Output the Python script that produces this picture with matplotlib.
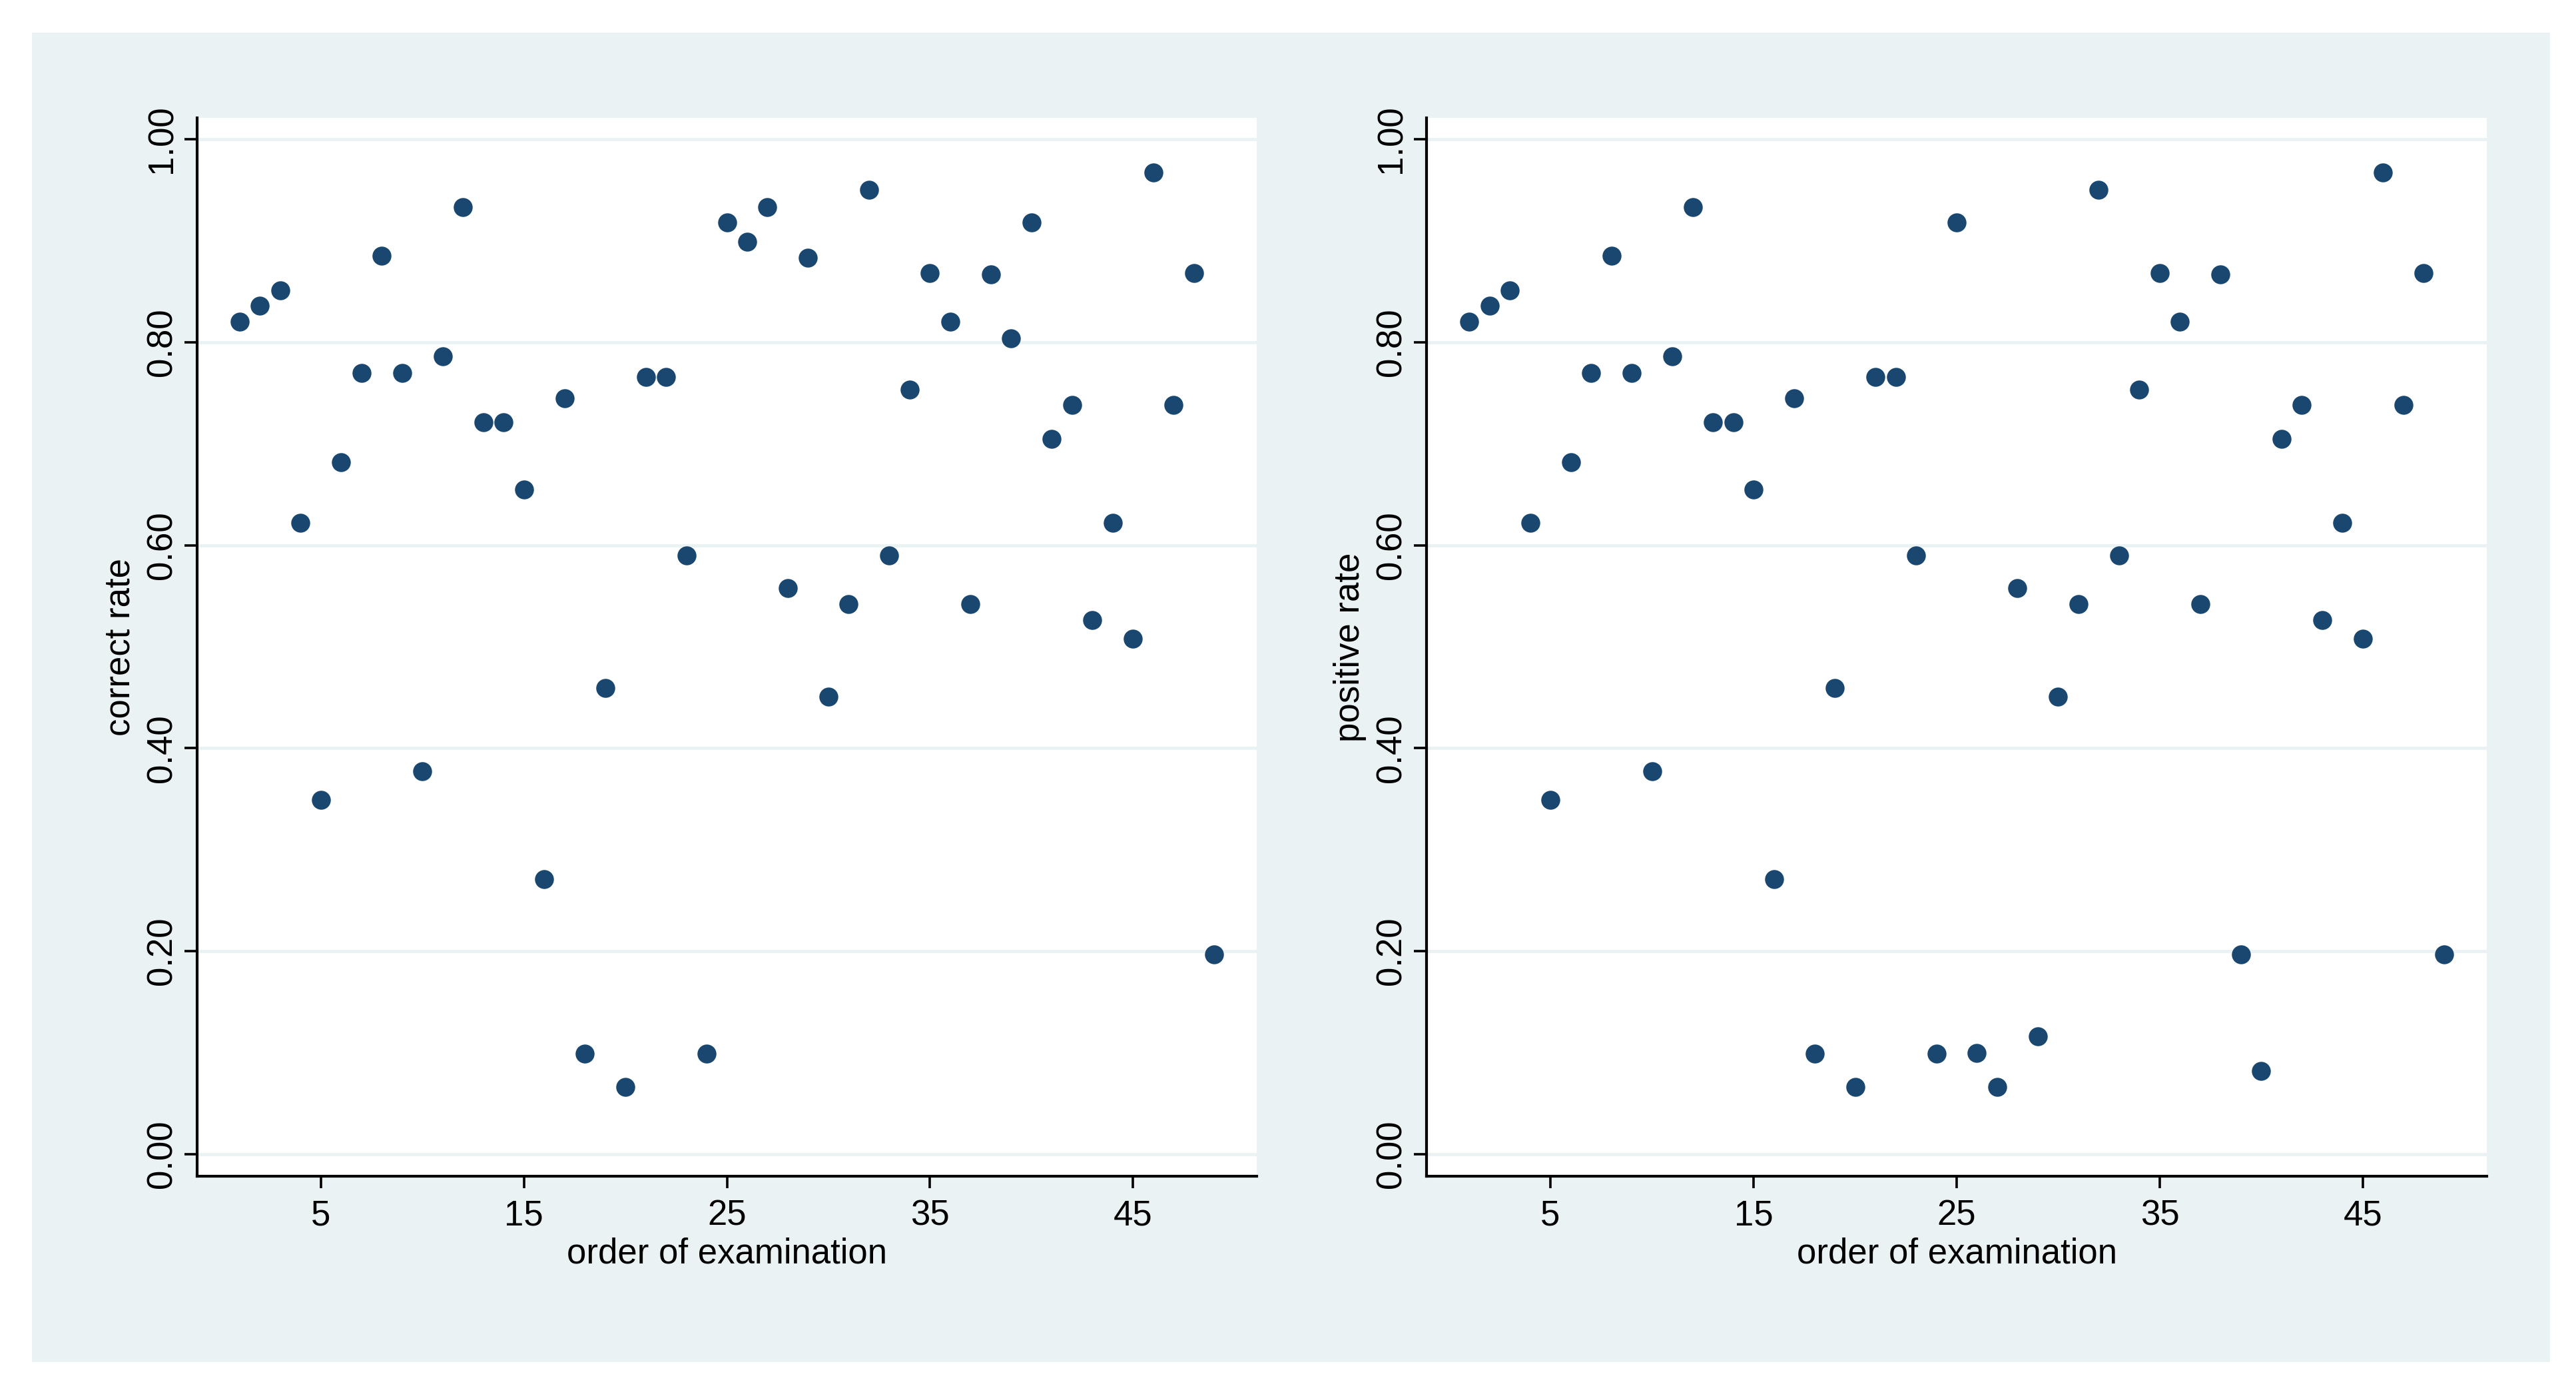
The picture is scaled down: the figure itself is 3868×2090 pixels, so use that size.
import matplotlib
matplotlib.use('Agg')
import matplotlib.pyplot as plt
from matplotlib.patches import Rectangle

# ---------------- data ----------------
order = list(range(1, 50))
correct_rate = [0.820, 0.836, 0.851, 0.622, 0.349, 0.682, 0.770, 0.885, 0.770, 0.377,
                0.786, 0.933, 0.721, 0.721, 0.655, 0.271, 0.745, 0.099, 0.459, 0.066,
                0.766, 0.766, 0.590, 0.099, 0.918, 0.899, 0.933, 0.558, 0.883, 0.451,
                0.542, 0.950, 0.590, 0.753, 0.868, 0.820, 0.542, 0.867, 0.804, 0.918,
                0.705, 0.738, 0.526, 0.622, 0.508, 0.967, 0.738, 0.868, 0.197]
positive_rate = [0.820, 0.836, 0.851, 0.622, 0.349, 0.682, 0.770, 0.885, 0.770, 0.377,
                 0.786, 0.933, 0.721, 0.721, 0.655, 0.271, 0.745, 0.099, 0.459, 0.066,
                 0.766, 0.766, 0.590, 0.099, 0.918, 0.100, 0.066, 0.558, 0.116, 0.451,
                 0.542, 0.950, 0.590, 0.753, 0.868, 0.820, 0.542, 0.867, 0.197, 0.082,
                 0.705, 0.738, 0.526, 0.622, 0.508, 0.967, 0.738, 0.868, 0.197]
x_ticks = [5, 15, 25, 35, 45]
y_ticks = [0.0, 0.2, 0.4, 0.6, 0.8, 1.0]
y_tick_labels = ['0.00', '0.20', '0.40', '0.60', '0.80', '1.00']
x_title = 'order of examination'
y_titles = ['correct rate', 'positive rate']

# ---------------- style ----------------
plt.rcParams['font.family'] = ['Liberation Sans', 'DejaVu Sans']
W, H = 3868, 2090
DPI = 100
BG = '#EAF2F3'
MARK = '#1A476F'
FS = 38

fig = plt.figure(figsize=(W / DPI, H / DPI), dpi=DPI)
fig.patch.set_facecolor('white')
fig.add_artist(Rectangle((48 / W, 1 - 2045 / H), (3829 - 48) / W, (2045 - 49) / H,
                         transform=fig.transFigure, facecolor=BG, edgecolor='none',
                         zorder=-5))

axes_px = [(296, 1887), (2142, 3734)]
top_px, bot_px = 177, 1766

for (xl, xr), yvals, ytitle in zip(axes_px, [correct_rate, positive_rate], y_titles):
    ax = fig.add_axes([xl / W, 1 - bot_px / H, (xr - xl) / W, (bot_px - top_px) / H])
    ax.set_facecolor('white')
    ax.set_xlim(-1.1, 51.1)
    ax.set_ylim(-0.0217, 1.021)
    for yv in y_ticks:
        ax.axhline(yv, color=BG, lw=3.4, zorder=1)
    ax.plot(order, yvals, linestyle='none', marker='o', markersize=20.5,
            markerfacecolor=MARK, markeredgewidth=0, zorder=3)

    for s in ['top', 'right']:
        ax.spines[s].set_visible(False)
    for s in ['left', 'bottom']:
        ax.spines[s].set_linewidth(3.0)
        ax.spines[s].set_color('black')

    ax.set_xticks(x_ticks)
    ax.set_xticklabels([str(v) for v in x_ticks])
    ax.set_yticks(y_ticks)
    ax.set_yticklabels(y_tick_labels)
    ax.tick_params(axis='x', length=13, width=2.6, pad=11.5, labelsize=FS, color='black')
    ax.tick_params(axis='y', length=14, width=2.6, pad=6, labelsize=FS, color='black',
                   labelrotation=90)
    plt.setp(ax.get_yticklabels(), va='center')

    ax.set_xlabel(x_title, fontsize=FS)
    ax.xaxis.set_label_coords(0.5, -0.0573)
    ax.set_ylabel(ytitle, fontsize=FS)
    ax.yaxis.set_label_coords(-0.0566, 0.5)

fig.savefig('out.png', dpi=DPI)
